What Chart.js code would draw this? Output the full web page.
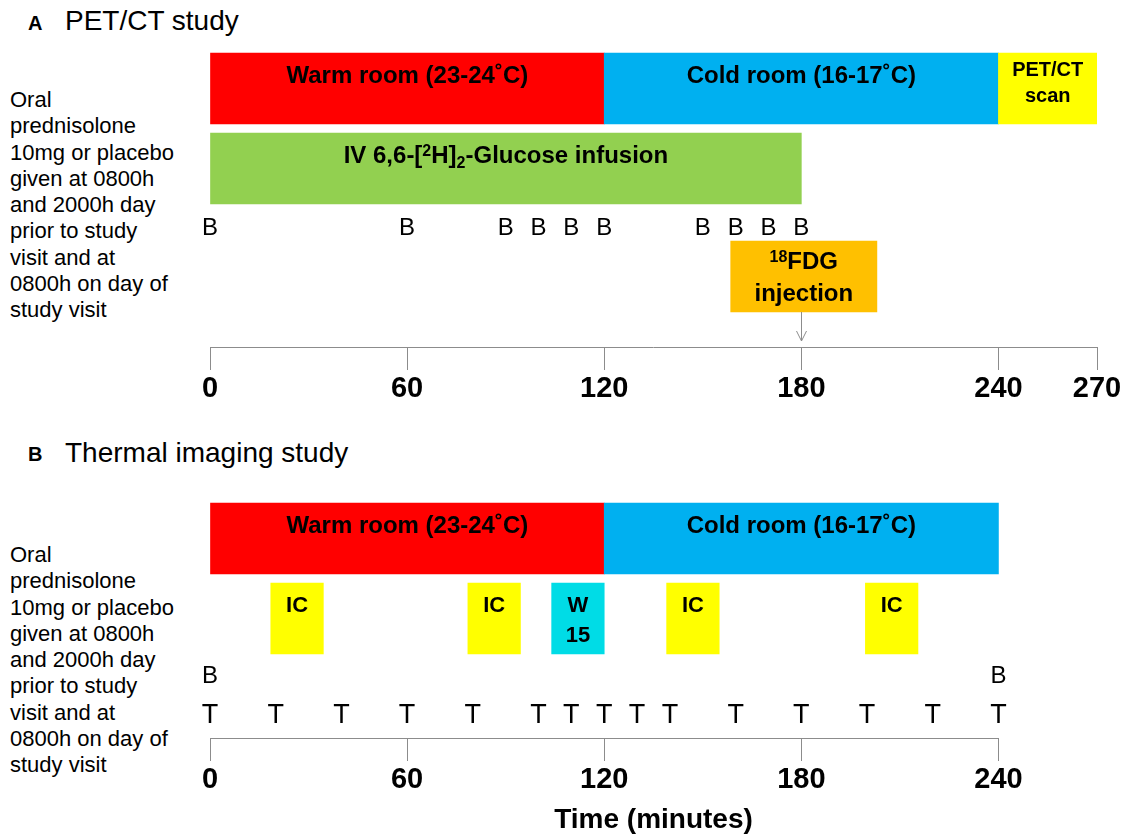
<!DOCTYPE html>
<html>
<head>
<meta charset="utf-8">
<script src="https://cdn.jsdelivr.net/npm/chart.js@4.4.1/dist/chart.umd.min.js"></script>
<style>
  html, body { margin: 0; padding: 0; background: #fff; }
  #wrap { position: relative; width: 1131px; height: 836px; overflow: hidden;
          font-family: "Liberation Sans", Arial, sans-serif; color: #000; }
  canvas { position: absolute; left: 0; }
  .t { position: absolute; white-space: nowrap; line-height: 1; }
  .letter { font-weight: bold; font-size: 20px; }
  .head { font-size: 28px; }
  .note { position: absolute; left: 10px; font-size: 22px; line-height: 26.25px; white-space: nowrap; }
</style>
</head>
<body>
<div id="wrap">
  <div class="t letter" style="left:28px; top:13px;">A</div>
  <div class="t head" style="left:65px; top:7px;">PET/CT study</div>
  <div class="note" style="top:87px;">Oral<br>prednisolone<br>10mg or placebo<br>given at 0800h<br>and 2000h day<br>prior to study<br>visit and at<br>0800h on day of<br>study visit</div>
  <canvas id="chartA" width="1131" height="420" style="top:0; width:1131px; height:420px;"></canvas>

  <div class="t letter" style="left:28px; top:444px;">B</div>
  <div class="t head" style="left:65px; top:439px;">Thermal imaging study</div>
  <div class="note" style="top:542px;">Oral<br>prednisolone<br>10mg or placebo<br>given at 0800h<br>and 2000h day<br>prior to study<br>visit and at<br>0800h on day of<br>study visit</div>
  <canvas id="chartB" width="1131" height="416" style="top:420px; width:1131px; height:416px;"></canvas>
</div>
<script>
// ---------------- DATA (minutes) ----------------
// Panel A: PET/CT study
const phaseLabelsA = ['Warm room (23-24˚C)', 'Cold room (16-17˚C)', 'PET/CT\nscan'];
const phaseStartA  = [0, 120, 240];
const phaseEndA    = [120, 240, 270];
const infusionLabels = ['IV 6,6-[^{2}H]_{2}-Glucose infusion'];
const infusionStart  = [0];
const infusionEnd    = [180];
const bloodTimesA  = [0, 60, 90, 100, 110, 120, 150, 160, 170, 180];
const fdgLabels    = ['^{18}FDG\ninjection'];
const fdgBoxStart  = [158.5];
const fdgBoxEnd    = [203];
const fdgTime      = 180;
const ticksA       = [0, 60, 120, 180, 240, 270];

// Panel B: Thermal imaging study
const phaseLabelsB = ['Warm room (23-24˚C)', 'Cold room (16-17˚C)'];
const phaseStartB  = [0, 120];
const phaseEndB    = [120, 240];
const measLabelsB  = ['IC', 'IC', 'W\n15', 'IC', 'IC'];
const measStartB   = [18.5, 78.5, 104, 139, 199.5];
const measEndB     = [34.5, 94.5, 120, 155, 215.5];
const bloodTimesB  = [0, 240];
const thermalTimesB = [0, 20, 40, 60, 80, 100, 110, 120, 130, 140, 160, 180, 200, 220, 240];
const ticksB       = [0, 60, 120, 180, 240];

// ---------------- STYLE / LAYOUT ----------------
const FONT = '"Liberation Sans", Arial, sans-serif';
const AXIS_GREY = '#8c8c8c';
const COLORS = {
  warm: '#FF0000', cold: '#00B0F0', scan: '#FFFF00',
  infusion: '#92D050', fdg: '#FFC000', ic: '#FFFF00', w15: '#00DCE6'
};
// vertical row positions (in px from the top of each plot area)
const ROWS_A = { phases: 88.5, infusion: 168.5, blood: 228, fdg: 276.5, height: 347 };
const ROWS_B = { phases: 118.5, meas: 198.5, blood: 256, thermal: 296, height: 318 };
const BAR_THICK = 71;

// ---------------- helpers ----------------
function parseRich(str) {
  return str.split('\n').map(line => {
    const segs = []; const re = /(\^|_)\{([^}]*)\}/g; let last = 0, m;
    while ((m = re.exec(line))) {
      if (m.index > last) segs.push({ t: line.slice(last, m.index), mode: 'n' });
      segs.push({ t: m[2], mode: m[1] === '^' ? 'sup' : 'sub' });
      last = re.lastIndex;
    }
    if (last < line.length) segs.push({ t: line.slice(last), mode: 'n' });
    return segs;
  });
}
function drawRich(ctx, str, cx, cy, size, gap, weight) {
  const lines = parseRich(str);
  const n = lines.length;
  ctx.save();
  ctx.fillStyle = '#000';
  ctx.textAlign = 'left';
  ctx.textBaseline = 'middle';
  lines.forEach((segs, i) => {
    const y = cy + (i - (n - 1) / 2) * gap;
    const fonts = segs.map(s => `${weight} ${s.mode === 'n' ? size : Math.round(size * 0.65)}px ${FONT}`);
    let w = 0;
    const ws = segs.map((s, k) => { ctx.font = fonts[k]; const mw = ctx.measureText(s.t).width; w += mw; return mw; });
    let x = cx - w / 2;
    segs.forEach((s, k) => {
      ctx.font = fonts[k];
      const dy = s.mode === 'sup' ? -size * 0.2 : (s.mode === 'sub' ? size * 0.33 : 0);
      ctx.fillText(s.t, x, y + dy);
      x += ws[k];
    });
  });
  ctx.restore();
}

const labelPlugin = {
  id: 'labels',
  afterDatasetsDraw(chart) {
    const ctx = chart.ctx;
    chart.data.datasets.forEach((ds, i) => {
      const meta = chart.getDatasetMeta(i);
      if (ds.markerText) {
        ctx.save();
        ctx.font = `normal ${ds.markerSize}px ${FONT}`;
        ctx.fillStyle = '#000';
        ctx.textAlign = 'center';
        ctx.textBaseline = 'middle';
        meta.data.forEach(el => ctx.fillText(ds.markerText, el.x, el.y));
        ctx.restore();
      }
      if (ds.barLabels) {
        const st = ds.labelStyle;
        meta.data.forEach((el, k) => {
          const c = el.getCenterPoint();
          const dy = Array.isArray(st.dy) ? st.dy[k] : st.dy;
          const size = Array.isArray(st.size) ? st.size[k] : st.size;
          const gap = Array.isArray(st.gap) ? st.gap[k] : st.gap;
          drawRich(ctx, ds.barLabels[k], c.x, c.y + dy, size, gap, 'bold');
        });
      }
    });
  }
};

const axisLinePlugin = {
  id: 'axisLine',
  afterDraw(chart, args, opts) {
    const xs = chart.scales.x;
    const ctx = chart.ctx;
    const y = Math.round(chart.chartArea.bottom) + 0.5;
    ctx.save();
    ctx.strokeStyle = AXIS_GREY;
    ctx.lineWidth = 1;
    ctx.beginPath();
    ctx.moveTo(xs.getPixelForValue(opts.from), y);
    ctx.lineTo(xs.getPixelForValue(opts.to), y);
    ctx.stroke();
    if (opts.arrowAt !== undefined) {
      const idx = chart.data.datasets.findIndex(d => d.id === 'fdg');
      const el = chart.getDatasetMeta(idx).data[0];
      const x = Math.round(xs.getPixelForValue(opts.arrowAt)) + 0.5;
      const top = el.y + el.height / 2;
      const tip = chart.chartArea.bottom - 6;
      ctx.beginPath();
      ctx.moveTo(x, top);
      ctx.lineTo(x, tip);
      ctx.moveTo(x - 5, tip - 10);
      ctx.lineTo(x, tip);
      ctx.lineTo(x + 5, tip - 10);
      ctx.stroke();
    }
    ctx.restore();
  }
};

function xScale(ticks, axisHeight, titleText) {
  return {
    type: 'linear', position: 'bottom', min: 0, max: 270, offset: false,
    afterBuildTicks: s => { s.ticks = ticks.map(v => ({ value: v })); },
    afterFit: s => { s.height = axisHeight; },
    grid: { offset: false, drawOnChartArea: false, drawTicks: true, tickLength: 23, color: AXIS_GREY, lineWidth: 1 },
    border: { display: false },
    ticks: {
      autoSkip: false, maxRotation: 0, padding: 4, color: '#000',
      font: { family: FONT, size: 29, weight: 'bold', lineHeight: 1 },
      callback: v => String(v)
    },
    title: titleText ? {
      display: true, text: titleText, color: '#000',
      font: { family: FONT, size: 28, weight: 'bold', lineHeight: 1 },
      padding: { top: 0, bottom: 2 }
    } : { display: false }
  };
}
function yScale(h) {
  return { type: 'linear', min: 0, max: h, reverse: true, display: false, offset: false, grid: { offset: false } };
}
function floatBars(id, row, starts, ends, colors, labels, style) {
  return {
    id, type: 'bar', indexAxis: 'y', grouped: false, xAxisID: 'x', yAxisID: 'y',
    barThickness: BAR_THICK, borderWidth: 0,
    backgroundColor: colors,
    data: starts.map((s, i) => ({ x: [s, ends[i]], y: row })),
    barLabels: labels, labelStyle: style
  };
}
function markers(id, row, times, text, size) {
  return {
    id, type: 'scatter', xAxisID: 'x', yAxisID: 'y',
    pointRadius: 0, pointHoverRadius: 0, showLine: false,
    data: times.map(t => ({ x: t, y: row })),
    markerText: text, markerSize: size
  };
}
const baseOptions = (rows, ticks, axisH, title, plug) => ({
  responsive: false, animation: false, indexAxis: 'y',
  layout: { padding: { left: 210, right: 34, top: 0, bottom: 0 } },
  plugins: { legend: { display: false }, tooltip: { enabled: false }, axisLine: plug },
  scales: { x: xScale(ticks, axisH, title), y: yScale(rows.height) }
});

// ---------------- Chart A ----------------
new Chart(document.getElementById('chartA'), {
  type: 'bar',
  data: {
    datasets: [
      floatBars('phases', ROWS_A.phases, phaseStartA, phaseEndA,
        [COLORS.warm, COLORS.cold, COLORS.scan], phaseLabelsA,
        { size: [24, 24, 20], gap: 26, dy: [-12.5, -12.5, -5.5] }),
      floatBars('infusion', ROWS_A.infusion, infusionStart, infusionEnd,
        [COLORS.infusion], infusionLabels, { size: 24, gap: 26, dy: -12.5 }),
      floatBars('fdg', ROWS_A.fdg, fdgBoxStart, fdgBoxEnd,
        [COLORS.fdg], fdgLabels, { size: 24, gap: 32, dy: 1.5 }),
      markers('bloodA', ROWS_A.blood, bloodTimesA, 'B', 24)
    ]
  },
  options: baseOptions(ROWS_A, ticksA, 73, null, { from: 0, to: 270, arrowAt: fdgTime }),
  plugins: [labelPlugin, axisLinePlugin]
});

// ---------------- Chart B ----------------
new Chart(document.getElementById('chartB'), {
  type: 'bar',
  data: {
    datasets: [
      floatBars('phasesB', ROWS_B.phases, phaseStartB, phaseEndB,
        [COLORS.warm, COLORS.cold], phaseLabelsB, { size: 24, gap: 26, dy: -12.5 }),
      floatBars('meas', ROWS_B.meas, measStartB, measEndB,
        measLabelsB.map(l => l.startsWith('W') ? COLORS.w15 : COLORS.ic), measLabelsB,
        { size: 22, gap: 30, dy: measLabelsB.map(l => l.includes('\n') ? 2.5 : -12.5) }),
      markers('bloodB', ROWS_B.blood, bloodTimesB, 'B', 24),
      markers('thermal', ROWS_B.thermal, thermalTimesB, 'T', 27)
    ]
  },
  options: baseOptions(ROWS_B, ticksB, 98, 'Time (minutes)', { from: 0, to: 240 }),
  plugins: [labelPlugin, axisLinePlugin]
});
</script>
</body>
</html>
